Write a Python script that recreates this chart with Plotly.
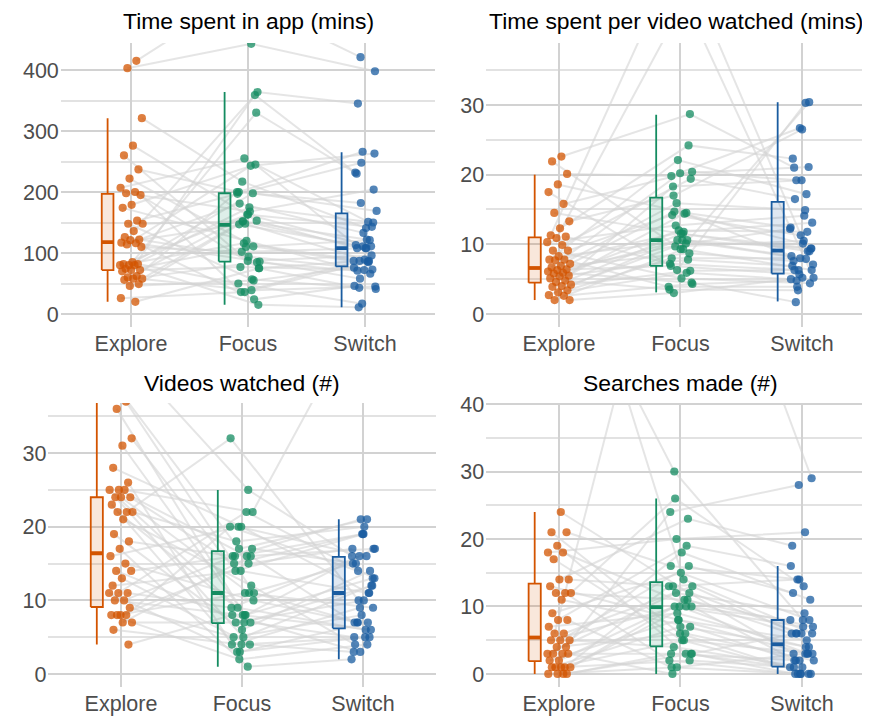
import plotly.graph_objects as go

# ---------------- data ----------------
conditions = ["Explore", "Focus", "Switch"]
panel_titles = ["Time spent in app (mins)", "Time spent per video watched (mins)",
                "Videos watched (#)", "Searches made (#)"]

# Panel 1: time spent in app (mins) - one entry per participant
app_explore = [415, 403, 321, 276, 260, 237, 222, 207, 200, 198, 195, 179, 174, 153, 148,
               148, 136, 126, 122, 121, 117, 116, 114, 110, 85, 82, 82, 80, 80, 80, 74, 72,
               72, 70, 62, 60, 58, 58, 56, 49, 46, 26, 20]
app_focus = [520, 443, 217, 153, 87, 200, 111, 255, 75, 168, 36, 245, 120, 197, 57, 152,
             364, 94, 181, 24, 148, 86, 243, 102, 330, 163, 50, 198, 116, 15, 175, 77, 359,
             110, 200, 39, 152, 85, 163, 147, 55, 36, 75]
app_switch = [421, 398, 141, 108, 96, 266, 87, 151, 43, 204, 89, 113, 66, 248, 41, 122, 345,
              73, 133, 46, 87, 58, 263, 108, 230, 111, 17, 169, 86, 11, 150, 72, 232, 121,
              182, 45, 108, 71, 143, 111, 76, 85, 87]

# Panel 2: time spent per video watched (mins)
vid_explore = [22.6, 21.9, 20.1, 18.6, 17.5, 15.8, 14.5, 13.3, 12.3, 11.3, 11.1, 10.9, 10.3,
               9.9, 9.1, 9.1, 8.3, 7.8, 7.8, 7.7, 7.2, 6.9, 6.7, 6.4, 6.3, 6.1, 5.9, 5.8, 5.5,
               5.4, 5.1, 4.8, 4.6, 4.2, 4.0, 3.9, 3.4, 3.1, 2.7, 2.6, 2.0, 2.0]
vid_focus = [28.7, 9.3, 19.8, 14.5, 6.3, 20.4, 11.5, 17.0, 24.2, 52, 7.2, 45, 12.7, 19.4, 5.1,
             14.2, 10.6, 22.1, 3.9, 11.8, 14.7, 8.7, 20.2, 6.9, 10.1, 15.9, 4.5, 10.6, 18.3,
             7.8, 12.0, 3.5, 14.4, 9.7, 6.2, 11.5, 8.0, 5.9, 10.6, 4.3, 9.3, 3.0]
vid_switch = [21.0, 30.4, 26.7, 12.4, 30.3, 19.2, 9.4, 26.5, 22.3, 9.0, 6.3, 5.2, 14.1, 16.5,
              4.4, 11.3, 8.3, 17.2, 3.9, 13.1, 10.1, 7.6, 21.1, 5.7, 12.2, 14.9, 1.7, 9.4,
              19.2, 6.9, 11.8, 3.4, 7.1, 10.5, 6.3, 9.0, 8.0, 5.0, 7.9, 4.8, 6.3, 5.2]

# Panel 3: videos watched (#)
nvid_explore = [44, 40, 37, 36, 32, 31, 28, 26, 25, 25, 25, 24, 24, 24, 23, 22, 22, 22, 21,
                19, 18, 17, 16, 15, 14, 14, 13, 12, 11, 11, 11, 10, 10, 9, 8, 8, 8, 8, 7, 7,
                6, 4]
nvid_focus = [25, 17, 11, 8, 14, 7, 20, 4, 16, 9, 22, 5, 15, 11, 3, 32, 8, 18, 12, 6, 16, 1,
              20, 10, 7, 16, 4, 14, 9, 22, 3, 17, 8, 5, 15, 2, 20, 11, 7, 16, 4, 8]
nvid_switch = [16, 21, 7, 13, 19, 5, 11, 9, 17, 6, 48, 12, 19, 15, 7, 10, 17, 20, 4, 14, 21,
               2, 16, 7, 12, 19, 3, 11, 16, 13, 5, 15, 6, 8, 17, 4, 14, 9, 10, 7, 5, 3]

# Panel 4: searches made (#)
srch_explore = [75, 60, 24, 21, 21, 19, 18, 18, 17, 14, 14, 13, 12, 12, 12, 11, 9, 8, 8, 7, 6,
                6, 5, 5, 5, 4, 4, 3, 3, 3, 3, 2, 2, 1, 1, 1, 1, 1, 0, 0, 0, 0]
srch_focus = [14, 30, 12, 6, 16, 3, 20, 10, 5, 13, 23, 8, 2, 11, 26, 7, 15, 1, 19, 9, 13, 80,
              4, 16, 10, 24, 6, 12, 3, 18, 0, 11, 8, 13, 5, 10, 2, 7, 3, 10, 1, 3]
srch_switch = [6, 8, 3, 0, 14, 1, 21, 2, 0, 6, 19, 3, 0, 7, 13, 2, 8, 0, 16, 4, 6, 29, 1, 12,
               3, 28, 2, 9, 0, 11, 0, 6, 5, 14, 3, 7, 1, 4, 2, 8, 3, 6]

# Box-plot summaries per condition (Explore, Focus, Switch): q1, median, q3, whisker ends
app_q1, app_med, app_q3 = [72, 86, 78], [118, 146, 108], [197, 198, 165]
app_lo, app_hi = [20, 15, 11], [321, 364, 265]
vid_q1, vid_med, vid_q3 = [4.5, 6.9, 5.8], [6.6, 10.6, 9.1], [11.0, 16.7, 16.1]
vid_lo, vid_hi = [2.0, 3.1, 1.8], [20.0, 28.6, 30.4]
nvid_q1, nvid_med, nvid_q3 = [9.1, 6.9, 6.2], [16.4, 11, 11], [24, 16.7, 15.9]
nvid_lo, nvid_hi = [4, 1, 2], [44, 25, 21]
srch_q1, srch_med, srch_q3 = [1.9, 4.1, 1.1], [5.4, 9.9, 4.4], [13.4, 13.6, 8.0]
srch_lo, srch_hi = [0, 0, 0], [24, 26, 16]

y_ticks = [[0, 100, 200, 300, 400], [0, 10, 20, 30], [0, 10, 20, 30], [0, 10, 20, 30, 40]]

# ---------------- styling / layout ----------------
OFF = 8                      # default page margin of the html body
PAGE_W, PAGE_H = 870, 717
W, H = PAGE_W - OFF, PAGE_H - OFF
COLORS = ["#D35400", "#148C61", "#1A5CA0"]
FILLS = ["rgba(211,84,0,0.14)", "rgba(20,140,97,0.14)", "rgba(26,92,160,0.14)"]
GRID_MAJOR = "#d2d2d2"
GRID_MINOR = "#e2e2e2"
FONT = "Liberation Sans, Arial, sans-serif"
BOX_OFFSET, BOX_HALF = 0.2, 0.05

panels = [
    (app_explore, app_focus, app_switch, app_q1, app_med, app_q3, app_lo, app_hi),
    (vid_explore, vid_focus, vid_switch, vid_q1, vid_med, vid_q3, vid_lo, vid_hi),
    (nvid_explore, nvid_focus, nvid_switch, nvid_q1, nvid_med, nvid_q3, nvid_lo, nvid_hi),
    (srch_explore, srch_focus, srch_switch, srch_q1, srch_med, srch_q3, srch_lo, srch_hi),
]

# page-pixel geometry of each plotting area: (left, right, top, bottom), x range, y range
geom = [
    ((60.8, 435.2, 43, 327), [-0.6, 2.6], [-21.3, 444.3]),
    ((486.1, 870.0, 43, 327), [-0.6, 2.56], [-1.87, 38.9]),
    ((48.4, 435.6, 403, 687), [-0.6, 2.6], [-1.76, 36.8]),
    ((486.1, 870.0, 403, 687), [-0.6, 2.56], [-1.93, 40.15]),
]
title_x = [248, 676, 242, 680]
title_y = [21, 21, 383, 383]


def px_x(p):
    return (p - OFF) / W


def px_y(p):
    return 1 - (p - OFF) / H


def jitter(i, g):
    f = (0.6180339887 * (i + 1) + 0.29 * g + 0.11) % 1.0
    return 0.1 * (2 * f - 1)


fig = go.Figure()
layout = dict(width=W, height=H, margin=dict(l=0, r=0, t=0, b=0, autoexpand=False),
              paper_bgcolor="white", plot_bgcolor="white", showlegend=False,
              font=dict(family=FONT), annotations=[], hovermode=False)

for k, (ex, fo, sw, q1, med, q3, lo, hi) in enumerate(panels):
    sfx = "" if k == 0 else str(k + 1)
    xref, yref = "x" + sfx, "y" + sfx
    groups = [ex, fo, sw]
    n = len(ex)
    xs = [[g + jitter(i, g + 3 * k) for i in range(n)] for g in range(3)]

    # participant lines (drawn first, underneath everything)
    lx, ly = [], []
    for i in range(n):
        for g in range(3):
            lx.append(xs[g][i])
            ly.append(groups[g][i])
        lx.append(None)
        ly.append(None)
    fig.add_trace(go.Scatter(x=lx, y=ly, mode="lines", xaxis=xref, yaxis=yref,
                             line=dict(color="rgba(212,212,212,0.6)", width=2)))

    # box plots (whiskers, box, thick median)
    for g in range(3):
        c = g - BOX_OFFSET
        l, r = c - BOX_HALF, c + BOX_HALF
        fig.add_trace(go.Scatter(x=[c, c, None, c, c], y=[lo[g], q1[g], None, q3[g], hi[g]],
                                 mode="lines", xaxis=xref, yaxis=yref,
                                 line=dict(color=COLORS[g], width=1.8)))
        fig.add_trace(go.Scatter(x=[l, r, r, l, l], y=[q1[g], q1[g], q3[g], q3[g], q1[g]],
                                 mode="lines", fill="toself", fillcolor=FILLS[g],
                                 xaxis=xref, yaxis=yref,
                                 line=dict(color=COLORS[g], width=1.8)))
        fig.add_trace(go.Scatter(x=[l, r], y=[med[g], med[g]], mode="lines",
                                 xaxis=xref, yaxis=yref,
                                 line=dict(color=COLORS[g], width=3.8)))

    # points
    for g in range(3):
        fig.add_trace(go.Scatter(x=xs[g], y=groups[g], mode="markers", xaxis=xref, yaxis=yref,
                                 marker=dict(color=COLORS[g], size=8.2, opacity=0.75,
                                             line=dict(width=0))))

    (L, R, T, B), xr, yr = geom[k]
    step = y_ticks[k][1] - y_ticks[k][0]
    layout["xaxis" + sfx] = dict(
        domain=[px_x(L), min(px_x(R), 1.0)], range=xr, anchor=yref, automargin=False,
        tickmode="array", tickvals=[0, 1, 2], ticktext=conditions,
        showgrid=True, gridcolor=GRID_MAJOR, gridwidth=2, zeroline=False, showline=False,
        ticks="", ticklabelstandoff=1,
        tickfont=dict(size=21.5, color="#4d4d4d", family=FONT), fixedrange=True)
    layout["yaxis" + sfx] = dict(
        domain=[px_y(B), px_y(T)], range=yr, anchor=xref, automargin=False,
        tickmode="array", tickvals=y_ticks[k], ticktext=[str(v) for v in y_ticks[k]],
        showgrid=True, gridcolor=GRID_MAJOR, gridwidth=1.8, zeroline=False, showline=False,
        minor=dict(tickmode="linear", tick0=step / 2, dtick=step, showgrid=True,
                   gridcolor=GRID_MINOR, gridwidth=1.5),
        ticks="", ticklabelstandoff=1,
        tickfont=dict(size=21.5, color="#4d4d4d", family=FONT), fixedrange=True)
    layout["annotations"].append(dict(
        text=panel_titles[k], xref="paper", yref="paper",
        x=px_x(title_x[k]), y=px_y(title_y[k]), xanchor="center", yanchor="middle",
        showarrow=False, font=dict(size=22.9, color="black", family=FONT)))

fig.update_layout(**layout)
fig.write_html("out.html")
